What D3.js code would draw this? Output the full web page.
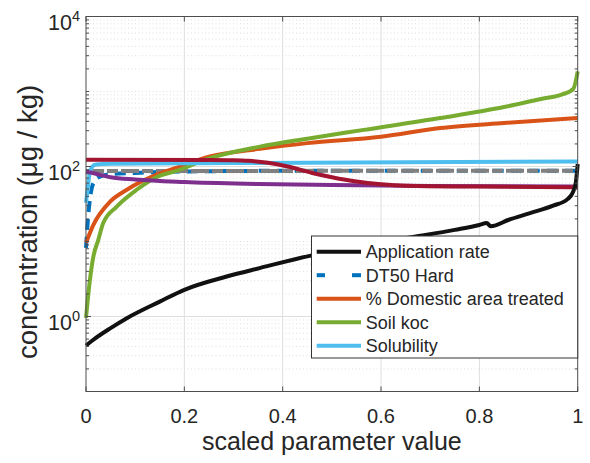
<!DOCTYPE html>
<html><head><meta charset="utf-8">
<script src="https://cdnjs.cloudflare.com/ajax/libs/d3/7.8.5/d3.min.js"></script>
<style>body{margin:0;background:#fff}svg{display:block}text{font-family:"Liberation Sans",Arial,Helvetica,sans-serif;fill:#262626}</style>
</head><body><svg id="c" width="590" height="463"></svg>
<script>
// ---- data ----
const xTicks = [0, 0.2, 0.4, 0.6, 0.8, 1];
const xTickLabels = ["0", "0.2", "0.4", "0.6", "0.8", "1"];
const yTickExp = [0, 2, 4];
const xLabel = "scaled parameter value";
const yLabel = "concentration (μg / kg)";

const appRateX = [0, 0.015, 0.05, 0.083, 0.15, 0.2, 0.286, 0.353, 0.455, 0.565, 0.68, 0.75, 0.8, 0.815, 0.823, 0.86, 0.903, 0.95, 0.98, 0.99, 0.996, 1];
const appRateY = [0.41, 0.49, 0.70, 0.95, 1.58, 2.27, 3.41, 4.42, 6.44, 9.0, 11.9, 14.3, 16.6, 17.6, 16.0, 19.5, 23.9, 30, 37, 45, 60, 108];

const dt50X = [0, 0.004, 0.01, 0.015, 0.028, 0.05, 0.1, 0.2, 0.5, 1];
const dt50Y = [8.2, 20, 45, 60, 73, 79, 82, 86, 88, 88];

const domX = [0, 0.015, 0.049, 0.083, 0.15, 0.181, 0.252, 0.354, 0.45, 0.6, 0.72, 0.85, 1];
const domY = [9.6, 16.7, 34, 49, 81, 95, 136, 172, 205, 250, 325, 380, 442];

const kocX = [0, 0.008, 0.015, 0.025, 0.035, 0.062, 0.103, 0.149, 0.181, 0.252, 0.354, 0.45, 0.565, 0.72, 0.85, 0.923, 0.97, 0.991, 1];
const kocY = [0.96, 3.1, 6.3, 10.5, 17.6, 29, 49, 75, 86, 129, 184, 235, 308, 442, 620, 790, 920, 1080, 1850];

const solX = [0, 0.004, 0.008, 0.013, 0.02, 0.05, 0.3, 1];
const solY = [33, 55, 85, 100, 106, 109, 111, 117];

const purpleX = [0, 0.02, 0.05, 0.1, 0.2, 0.35, 0.5, 0.7, 1];
const purpleY = [86, 80, 72, 67, 62, 58.5, 56.5, 55, 54];

const redX = [0, 0.25, 0.3, 0.33, 0.37, 0.41, 0.46, 0.5, 0.55, 0.6, 0.65, 0.8, 1];
const redY = [123, 122, 121, 119, 112, 100, 82, 72, 63, 58, 55.5, 54, 53];

const grayX = [0, 1];
const grayY = [87, 88];

const legendNames = ["Application rate", "DT50 Hard", "% Domestic area treated", "Soil koc", "Solubility"];

// ---- layout ----
const svg = d3.select("#c");
const L = 86, R = 577.7, T = 16.5, B = 391.5;
const x = d3.scaleLinear().domain([0, 1]).range([L, R]);
const y = d3.scaleLog().domain([0.1, 1e4]).range([B, T]);

// grid minor (dotted)
const minor = [];
for (let d = -1; d <= 3; d++) for (let k = 1; k <= 9; k++) {
  const v = k * Math.pow(10, d);
  if (v <= 0.1 || [1, 100, 10000].includes(v)) continue;
  minor.push(v);
}
const g = svg.append("g");
g.selectAll(".mg").data(minor).join("line")
  .attr("x1", L).attr("x2", R).attr("y1", d => y(d)).attr("y2", d => y(d))
  .attr("stroke", "#d6d6d6").attr("stroke-width", 0.8).attr("stroke-dasharray", "1,2.5");
// major grid
g.selectAll(".gx").data(xTicks.slice(1, -1)).join("line")
  .attr("x1", d => x(d)).attr("x2", d => x(d)).attr("y1", T).attr("y2", B)
  .attr("stroke", "#dedede").attr("stroke-width", 1);
g.selectAll(".gy").data(yTickExp.map(e => Math.pow(10, e))).join("line")
  .attr("x1", L).attr("x2", R).attr("y1", d => y(d)).attr("y2", d => y(d))
  .attr("stroke", "#dedede").attr("stroke-width", 1);

// ---- lines ----
const line = d3.line().x(d => x(d[0])).y(d => y(d[1])).curve(d3.curveMonotoneX);
const zip = (a, b) => a.map((v, i) => [v, b[i]]);
const series = [
  {xs: dt50X, ys: dt50Y, c: "#0072BD", dash: "11,7"},
  {xs: grayX, ys: grayY, c: "#808080", dash: "18,3,11,3"},
  {xs: domX, ys: domY, c: "#D95319"},
  {xs: kocX, ys: kocY, c: "#77AC30"},
  {xs: solX, ys: solY, c: "#4DBEEE"},
  {xs: purpleX, ys: purpleY, c: "#7E2F8E"},
  {xs: redX, ys: redY, c: "#A2142F"},
  {xs: appRateX, ys: appRateY, c: "#111111"}
];
const clip = svg.append("clipPath").attr("id", "pc").append("rect")
  .attr("x", L - 3).attr("y", T - 3).attr("width", R - L + 6).attr("height", B - T + 3);
const lg = svg.append("g").attr("clip-path", "url(#pc)");
series.forEach(s => {
  lg.append("path").attr("d", line(zip(s.xs, s.ys)))
    .attr("fill", "none").attr("stroke", s.c).attr("stroke-width", 4)
    .attr("stroke-dasharray", s.dash || null).attr("stroke-linejoin", "round");
});

// ---- axes box and ticks ----
const ax = svg.append("g").attr("stroke", "#4d4d4d").attr("stroke-width", 1).attr("fill", "none");
ax.append("rect").attr("x", L).attr("y", T).attr("width", R - L).attr("height", B - T);
xTicks.forEach(t => {
  ax.append("line").attr("x1", x(t)).attr("x2", x(t)).attr("y1", B).attr("y2", B - 5);
  ax.append("line").attr("x1", x(t)).attr("x2", x(t)).attr("y1", T).attr("y2", T + 5);
});
yTickExp.forEach(e => {
  const v = y(Math.pow(10, e));
  ax.append("line").attr("x1", L).attr("x2", L + 5).attr("y1", v).attr("y2", v);
  ax.append("line").attr("x1", R).attr("x2", R - 5).attr("y1", v).attr("y2", v);
});
minor.forEach(m => {
  const v = y(m);
  ax.append("line").attr("x1", L).attr("x2", L + 3).attr("y1", v).attr("y2", v);
  ax.append("line").attr("x1", R).attr("x2", R - 3).attr("y1", v).attr("y2", v);
});

// tick labels
svg.selectAll(".xt").data(xTicks).join("text")
  .attr("x", d => x(d)).attr("y", 423).attr("text-anchor", "middle")
  .attr("font-size", 20).text((d, i) => xTickLabels[i]);
yTickExp.forEach(e => {
  const t = svg.append("text").attr("x", 80).attr("y", y(Math.pow(10, e)) + 13)
    .attr("text-anchor", "end").attr("font-size", 21.5);
  t.append("tspan").text("10");
  t.append("tspan").attr("font-size", 14.5).attr("dy", -9).text(e);
});

// axis labels
svg.append("text").attr("x", (L + R) / 2).attr("y", 450).attr("text-anchor", "middle")
  .attr("font-size", 25).text(xLabel);
svg.append("text").attr("transform", `translate(37,${(T + B) / 2 + 18}) rotate(-90)`)
  .attr("text-anchor", "middle").attr("font-size", 27.5).text(yLabel);

// ---- legend ----
const lgd = svg.append("g");
lgd.append("rect").attr("x", 311.5).attr("y", 236).attr("width", R - 311.5).attr("height", 122)
  .attr("fill", "#fff").attr("stroke", "#333").attr("stroke-width", 1);
const legColors = ["#111111", "#0072BD", "#D95319", "#77AC30", "#4DBEEE"];
legendNames.forEach((n, i) => {
  const cy = 251.7 + i * 23.5;
  if (i === 1) {
    lgd.append("line").attr("x1", 316.7).attr("x2", 325).attr("y1", cy).attr("y2", cy).attr("stroke", legColors[i]).attr("stroke-width", 4);
    lgd.append("line").attr("x1", 352).attr("x2", 361).attr("y1", cy).attr("y2", cy).attr("stroke", legColors[i]).attr("stroke-width", 4);
  } else {
    lgd.append("line").attr("x1", 316.7).attr("x2", 361).attr("y1", cy).attr("y2", cy).attr("stroke", legColors[i]).attr("stroke-width", 4);
  }
  lgd.append("text").attr("x", 365.7).attr("y", cy + 6.5).attr("font-size", 18).text(n);
});
</script></body></html>
